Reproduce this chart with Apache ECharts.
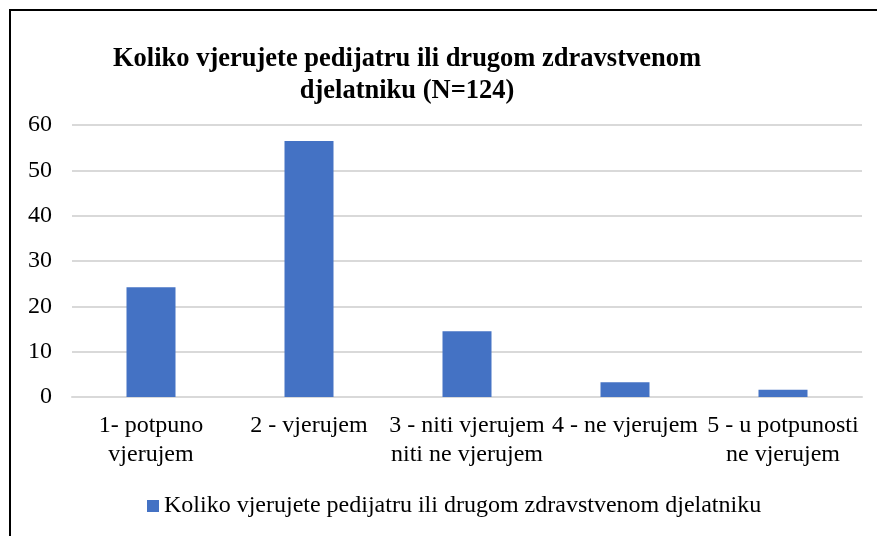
<!DOCTYPE html>
<html>
<head>
<meta charset="utf-8">
<script src="https://cdn.jsdelivr.net/npm/echarts@6/dist/echarts.min.js"></script>
<style>
  html, body { margin: 0; padding: 0; background: #fff; }
  #chart { width: 877px; height: 536px; }
</style>
</head>
<body>
<div id="chart"></div>
<script>
// podaci (N=124)
var categories = [
  "1- potpuno\nvjerujem",
  "2 - vjerujem",
  "3 - niti vjerujem\nniti ne vjerujem",
  "4 - ne vjerujem",
  "5 - u potpunosti\nne vjerujem"
];
var values = [24.19, 56.45, 14.52, 3.23, 1.61];
var seriesName = "Koliko vjerujete pedijatru ili drugom zdravstvenom djelatniku";
var yTicks = [0, 10, 20, 30, 40, 50, 60];

var fontFam = "'Liberation Serif', 'Times New Roman', serif";
var chart = echarts.init(document.getElementById("chart"));

var option = {
  backgroundColor: "#fff",
  animation: false,
  title: {
    text: "Koliko vjerujete pedijatru ili drugom zdravstvenom\ndjelatniku (N=124)",
    left: 402,
    top: 38,
    textAlign: "center",
    textStyle: {
      fontFamily: fontFam,
      fontWeight: "bold",
      fontSize: 26.5,
      lineHeight: 32,
      color: "#000"
    }
  },
  legend: {
    top: 489,
    left: 142,
    itemWidth: 12,
    itemHeight: 12,
    itemGap: 8,
    icon: "rect",
    textStyle: { fontFamily: fontFam, fontSize: 24, color: "#000" },
    data: [seriesName]
  },
  grid: { left: 72, right: 15, top: 125, bottom: 139 },
  xAxis: {
    type: "category",
    data: categories,
    axisLine: { show: true, lineStyle: { color: "#d9d9d9", width: 2 } },
    axisTick: { show: false },
    axisLabel: {
      interval: 0,
      margin: 14,
      fontFamily: fontFam,
      fontSize: 24,
      lineHeight: 29,
      color: "#000"
    }
  },
  yAxis: {
    type: "value",
    min: yTicks[0],
    max: yTicks[yTicks.length - 1],
    interval: 10,
    axisLine: { show: false },
    axisTick: { show: false },
    splitLine: { lineStyle: { color: "#d9d9d9", width: 2 } },
    axisLabel: { margin: 20, fontFamily: fontFam, fontSize: 24, color: "#000" }
  },
  graphic: [
    { type: "line", shape: { x1: 9, y1: 10, x2: 877, y2: 10 }, style: { stroke: "#000", lineWidth: 2 } },
    { type: "line", shape: { x1: 10, y1: 10, x2: 10, y2: 536 }, style: { stroke: "#000", lineWidth: 2 } }
  ],
  series: [
    {
      name: seriesName,
      type: "bar",
      data: values,
      barWidth: 49,
      itemStyle: { color: "#4472C4" }
    }
  ]
};

chart.setOption(option);
window.onresize = chart.resize;
</script>
</body>
</html>
